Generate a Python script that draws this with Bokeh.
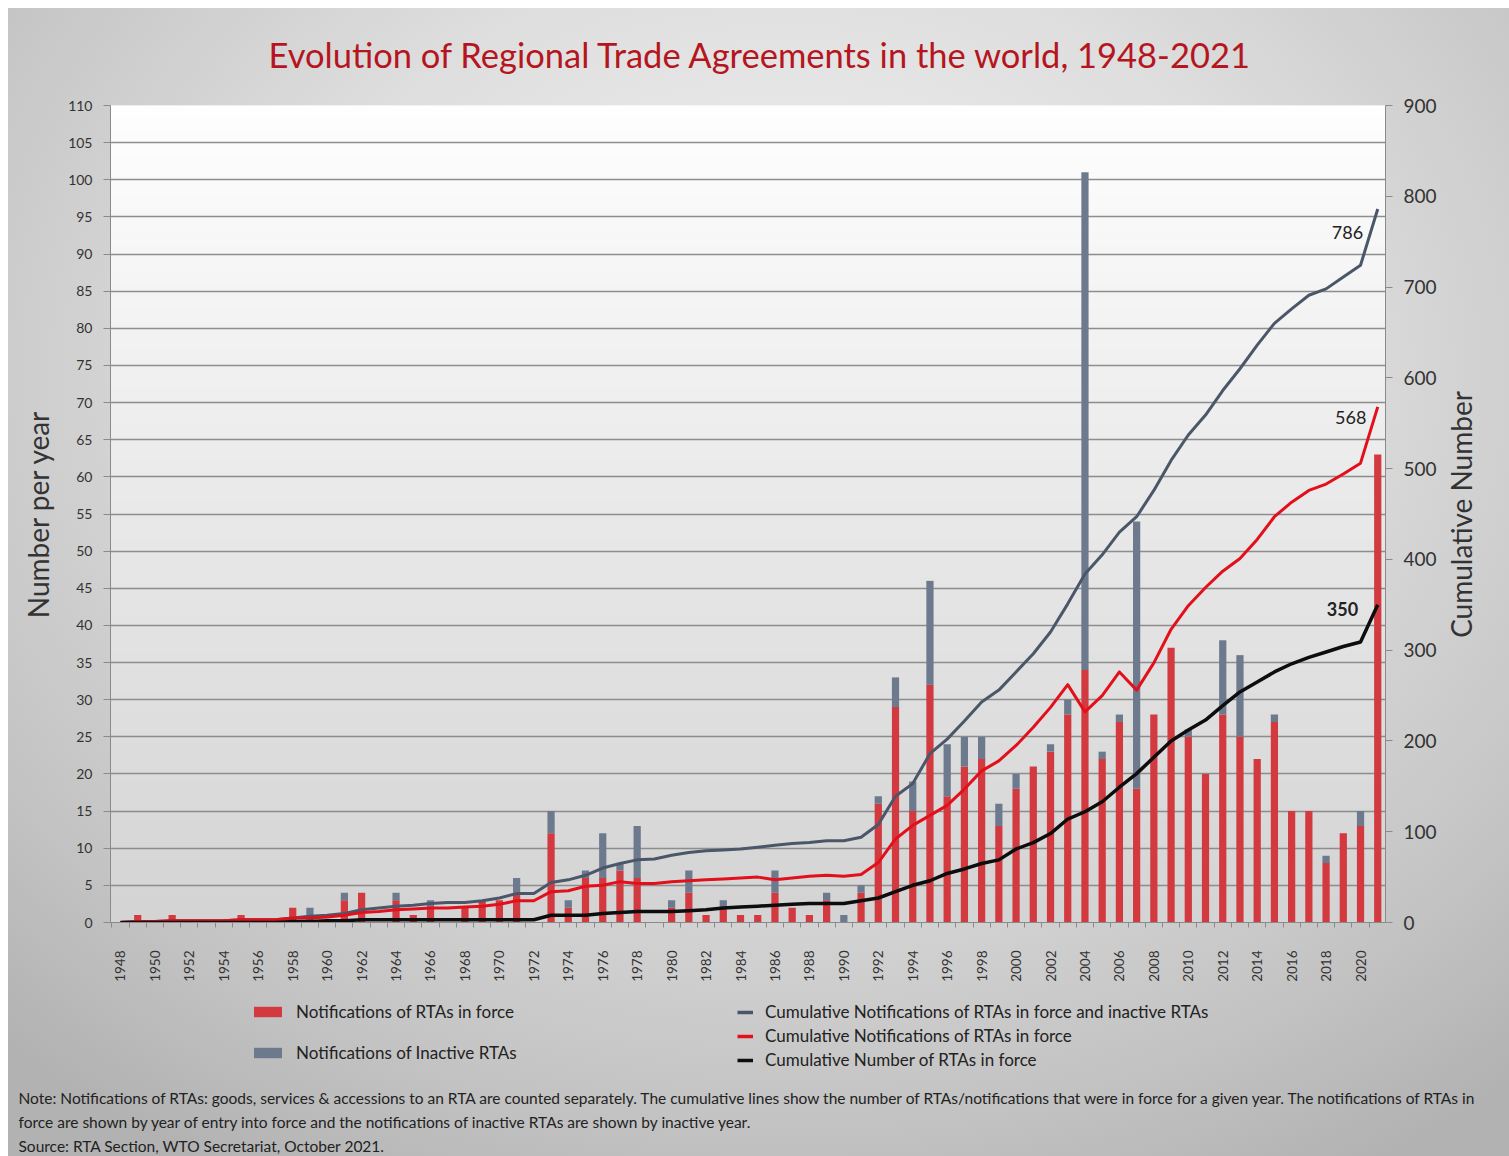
import math
import numpy as np
from bokeh.plotting import figure
from bokeh.layouts import column, row
from bokeh.models import (Range1d, LinearAxis, FixedTicker, Label, Legend,
                          LegendItem, ColumnDataSource)
from bokeh.embed import file_html
from bokeh.resources import INLINE

# ---------------- data ----------------
years = list(range(1948, 2022))

notif_in_force = [0, 1, 0, 1, 0, 0, 0, 1, 0, 0,      # 1948-1957
                  2, 0, 0, 3, 4, 0, 3, 1, 2, 0,      # 1958-1967
                  2, 3, 3, 4, 0, 12, 2, 6, 6, 7,     # 1968-1977
                  6, 0, 2, 4, 1, 2, 1, 1, 4, 2,      # 1978-1987
                  1, 3, 0, 4, 16, 29, 15, 32, 17, 21,  # 1988-1997
                  22, 13, 18, 21, 23, 28, 34, 22, 27, 18,  # 1998-2007
                  28, 37, 25, 20, 28, 25, 22, 27, 15, 15,  # 2008-2017
                  8, 12, 13, 63]                       # 2018-2021

notif_inactive = [0, 0, 0, 0, 0, 0, 0, 0, 0, 0,
                  0, 2, 0, 1, 0, 0, 1, 0, 1, 0,
                  0, 0, 0, 2, 0, 3, 1, 1, 6, 1,
                  7, 0, 1, 3, 0, 1, 0, 0, 3, 0,
                  0, 1, 1, 1, 1, 4, 4, 14, 7, 4,
                  3, 3, 2, 0, 1, 2, 67, 1, 1, 36,
                  0, 0, 1, 0, 10, 11, 0, 1, 0, 0,
                  1, 0, 2, 0]

cum_all_notif = [0, 1, 1, 2, 2, 2, 2, 3, 3, 3,
                 5, 7, 8, 10, 14, 16, 18, 19, 21, 22,
                 22, 24, 27, 32, 32, 44, 47, 52, 60, 65,
                 69, 70, 74, 77, 79, 80, 81, 83, 85, 87,
                 88, 90, 90, 94, 108, 139, 153, 186, 202, 222,
                 243, 256, 276, 296, 320, 351, 384, 405, 430, 447,
                 476, 509, 537, 559, 586, 610, 636, 660, 676, 691,
                 698, 711, 724, 786]

cum_in_force_notif = [0, 1, 1, 2, 2, 2, 2, 3, 3, 3,
                      5, 5, 6, 8, 11, 12, 14, 15, 16, 16,
                      17, 18, 20, 24, 24, 34, 35, 40, 41, 45,
                      43, 43, 45, 46, 47, 48, 49, 50, 47, 49,
                      51, 52, 51, 53, 66, 92, 107, 118, 129, 147,
                      167, 178, 195, 215, 237, 262, 232, 250, 276, 256,
                      286, 323, 349, 369, 387, 401, 422, 447, 463, 476,
                      483, 494, 506, 568]

cum_rtas_in_force = [0, 0, 0, 0, 0, 0, 0, 0, 0, 0,
                     1, 1, 2, 2, 3, 3, 3, 3, 3, 3,
                     3, 3, 3, 3, 3, 8, 8, 8, 10, 11,
                     12, 12, 12, 13, 14, 16, 17, 18, 19, 20,
                     21, 21, 21, 24, 27, 34, 41, 46, 54, 59,
                     65, 69, 81, 88, 98, 114, 122, 133, 149, 164,
                     182, 200, 212, 223, 239, 254, 265, 276, 285, 292,
                     298, 304, 309, 350]

left_ticks = list(range(0, 111, 5))
right_ticks = list(range(0, 901, 100))
year_ticks = list(range(1948, 2021, 2))

end_labels = ["786", "568", "350"]

title_text = "Evolution of Regional Trade Agreements in the world, 1948-2021"
left_axis_title = "Number per year"
right_axis_title = "Cumulative Number"
legend_bar_labels = ["Notifications of RTAs in force", "Notifications of Inactive RTAs"]
legend_line_labels = ["Cumulative Notifications of RTAs in force and inactive RTAs",
                      "Cumulative Notifications of RTAs in force",
                      "Cumulative Number of RTAs in force"]
note_line1 = ("Note: Notifications of RTAs: goods, services & accessions to an RTA are counted separately. "
              "The cumulative lines show the number of RTAs/notifications that were in force for a given year. "
              "The notifications of RTAs in")
note_line2 = ("force are shown by year of entry into force and the notifications of inactive RTAs "
              "are shown by inactive year.")
source_line = "Source: RTA Section, WTO Secretariat, October 2021."

# ---------------- styling ----------------
FONT = "Lato"
RED_BAR = "#d23a40"
GREY_BAR = "#6d7a8d"
GREY_LINE = "#4b5769"
RED_LINE = "#e3101c"
BLACK_LINE = "#0d0d0d"
TEXT = "#333333"
W = 1509
H = 1156
MAIN_H = 990
MAIN_W = 1444
FOOT_H = H - MAIN_H
SIDE_W = W - MAIN_W


def no_align(fig):
    if "frame_align" in fig.properties():
        fig.frame_align = False


src = ColumnDataSource(dict(
    year=years,
    in_force=notif_in_force,
    total=[a + b for a, b in zip(notif_in_force, notif_inactive)],
    cum_all=cum_all_notif,
    cum_force=cum_in_force_notif,
    cum_rtas=cum_rtas_in_force,
))

X0, X1 = 1947.42, 2021.45
p = figure(width=MAIN_W, height=MAIN_H,
           x_range=Range1d(X0, X1), y_range=Range1d(0, 110),
           output_backend="svg", toolbar_location=None,
           min_border_left=110, min_border_right=MAIN_W - 1385,
           min_border_top=105, min_border_bottom=MAIN_H - 922)
no_align(p)
p.extra_y_ranges = {"cum": Range1d(0, 900)}
p.border_fill_color = None
p.outline_line_color = None

# title
p.title.text = title_text
p.title.text_font = FONT
p.title.text_font_size = "34.5px"
p.title.text_font_style = "normal"
p.title.text_color = "#b5161e"
p.title.align = "left"
p.title.offset = 268 - 110
p.title.standoff = 61

# plot-area vertical gradient (white at top, light grey at bottom)
n = 64
top_c = np.array([254, 254, 254])
bot_c = np.array([212, 212, 212])
img = np.empty((n, 1), dtype=np.uint32)
view = img.view(dtype=np.uint8).reshape((n, 1, 4))
for i in range(n):
    t = i / (n - 1)
    c = bot_c + (top_c - bot_c) * t
    view[i, 0, 0:3] = c.astype(np.uint8)
    view[i, 0, 3] = 255
bg = p.image_rgba(image=[img], x=X0, y=0, dw=X1 - X0, dh=110)
bg.level = "image"

# grid
p.xgrid.visible = False
p.ygrid.ticker = FixedTicker(ticks=left_ticks)
p.ygrid.grid_line_color = "#8d8d8d"
p.ygrid.grid_line_width = 1.6

# left axis
ya = p.yaxis[0]
ya.ticker = FixedTicker(ticks=left_ticks)
ya.axis_line_color = "#8a8a8a"
ya.major_tick_line_color = "#8a8a8a"
ya.major_tick_out = 7
ya.major_tick_in = 0
ya.minor_tick_line_color = None
ya.major_label_standoff = 11
ya.major_label_text_font = FONT
ya.major_label_text_font_size = "14px"
ya.major_label_text_color = TEXT
ya.axis_label = left_axis_title
ya.axis_label_text_font = FONT
ya.axis_label_text_font_size = "28px"
ya.axis_label_text_font_style = "normal"
ya.axis_label_text_color = TEXT
ya.axis_label_standoff = 10

# right axis (its title is drawn in the narrow side panel, reading bottom-to-top)
ra = LinearAxis(y_range_name="cum", ticker=FixedTicker(ticks=right_ticks))
ra.axis_line_color = "#8a8a8a"
ra.major_tick_line_color = "#8a8a8a"
ra.major_tick_out = 7
ra.major_tick_in = 0
ra.minor_tick_line_color = None
ra.major_label_standoff = 11
ra.major_label_text_font = FONT
ra.major_label_text_font_size = "19px"
ra.major_label_text_color = TEXT
p.add_layout(ra, "right")

# x axis
xa = p.xaxis[0]
xa.ticker = FixedTicker(ticks=year_ticks,
                        minor_ticks=[y + 0.5 for y in range(1947, 2022)])
xa.axis_line_color = "#8a8a8a"
xa.major_tick_line_color = None
xa.minor_tick_line_color = "#8a8a8a"
xa.minor_tick_out = 5
xa.minor_tick_in = 0
xa.major_label_orientation = math.pi / 2
xa.major_label_standoff = 22
xa.major_label_text_font = FONT
xa.major_label_text_font_size = "13.5px"
xa.major_label_text_color = TEXT

# bars
p.vbar(x="year", top="in_force", bottom=0, width=0.42, source=src,
       fill_color=RED_BAR, line_color=None)
p.vbar(x="year", bottom="in_force", top="total", width=0.42, source=src,
       fill_color=GREY_BAR, line_color=None)

# cumulative lines
p.line(x="year", y="cum_all", source=src, y_range_name="cum",
       line_color=GREY_LINE, line_width=3, line_join="round")
p.line(x="year", y="cum_force", source=src, y_range_name="cum",
       line_color=RED_LINE, line_width=3, line_join="round")
p.line(x="year", y="cum_rtas", source=src, y_range_name="cum",
       line_color=BLACK_LINE, line_width=3.5, line_join="round")

# end value labels
for txt, yr, val, style in [(end_labels[0], 2019.24, 760, "normal"),
                            (end_labels[1], 2019.43, 556, "normal"),
                            (end_labels[2], 2018.95, 345, "bold")]:
    p.add_layout(Label(x=yr, y=val, y_range_name="cum", text=txt,
                       text_font=FONT, text_font_size="18px", text_font_style=style,
                       text_color="#222222", text_align="center",
                       text_baseline="middle"))

# ---------------- side panel: right axis title ----------------
s = figure(width=SIDE_W, height=MAIN_H, x_range=Range1d(0, SIDE_W),
           y_range=Range1d(0, MAIN_H), x_axis_type=None, y_axis_type=None,
           output_backend="svg", toolbar_location=None, min_border=0)
no_align(s)
s.grid.visible = False
s.outline_line_color = None
s.background_fill_color = None
s.border_fill_color = None
s.add_layout(Label(x=1460 - MAIN_W, y=MAIN_H - 514, x_units="screen", y_units="screen",
                   text=right_axis_title, angle=math.pi / 2,
                   text_font=FONT, text_font_size="28px", text_color=TEXT,
                   text_align="center", text_baseline="middle"))

# ---------------- footer: legends and notes ----------------
f = figure(width=W, height=FOOT_H, x_range=Range1d(0, W), y_range=Range1d(0, FOOT_H),
           x_axis_type=None, y_axis_type=None, output_backend="svg",
           toolbar_location=None, min_border=0)
no_align(f)
f.grid.visible = False
f.outline_line_color = None
f.background_fill_color = None
f.border_fill_color = None

# legend glyph renderers: same data, but outside this panel's visible range
lb_force = f.vbar(x="year", top="in_force", width=0.42, source=src,
                  fill_color=RED_BAR, line_color=None)
lb_inact = f.vbar(x="year", bottom="in_force", top="total", width=0.42, source=src,
                  fill_color=GREY_BAR, line_color=None)
ll_all = f.line(x="year", y="cum_all", source=src, line_color=GREY_LINE, line_width=3.5)
ll_force = f.line(x="year", y="cum_force", source=src, line_color=RED_LINE, line_width=3.5)
ll_rtas = f.line(x="year", y="cum_rtas", source=src, line_color=BLACK_LINE, line_width=3.5)


def fy(py):
    """page y (from top) -> footer screen y (from bottom)"""
    return H - py


leg1 = Legend(items=[LegendItem(label=legend_bar_labels[0], renderers=[lb_force]),
                     LegendItem(label=legend_bar_labels[1], renderers=[lb_inact])],
              location=(250, fy(1063)), orientation="vertical",
              glyph_width=35, glyph_height=13, label_standoff=11, spacing=20,
              padding=0, margin=0, border_line_alpha=0, background_fill_alpha=0,
              label_text_font=FONT, label_text_font_size="17px",
              label_text_color="#222222", label_height=20)
leg2 = Legend(items=[LegendItem(label=legend_line_labels[0], renderers=[ll_all]),
                     LegendItem(label=legend_line_labels[1], renderers=[ll_force]),
                     LegendItem(label=legend_line_labels[2], renderers=[ll_rtas])],
              location=(737, fy(1070)), orientation="vertical",
              glyph_width=16, glyph_height=14, label_standoff=12, spacing=3,
              padding=0, margin=0, border_line_alpha=0, background_fill_alpha=0,
              label_text_font=FONT, label_text_font_size="17px",
              label_text_color="#222222", label_height=20)
f.add_layout(leg1, "center")
f.add_layout(leg2, "center")

for txt, py in [(note_line1, 1097), (note_line2, 1121), (source_line, 1145)]:
    f.add_layout(Label(x=18, y=fy(py), x_units="screen", y_units="screen",
                       text=txt, text_font=FONT, text_font_size="15.5px",
                       text_color="#222222", text_align="left",
                       text_baseline="middle"))

layout = column(row(p, s, spacing=0), f, spacing=0)
layout.styles = {
    "background": "radial-gradient(ellipse 75% 80% at 52% 32%, #f3f3f3 0%, #dedede 45%, #c4c4c4 80%, #b2b2b2 100%)",
    "box-shadow": "inset 8px 8px 0 0 #ffffff",
}

open("out.html", "w").write(file_html(layout, INLINE))
